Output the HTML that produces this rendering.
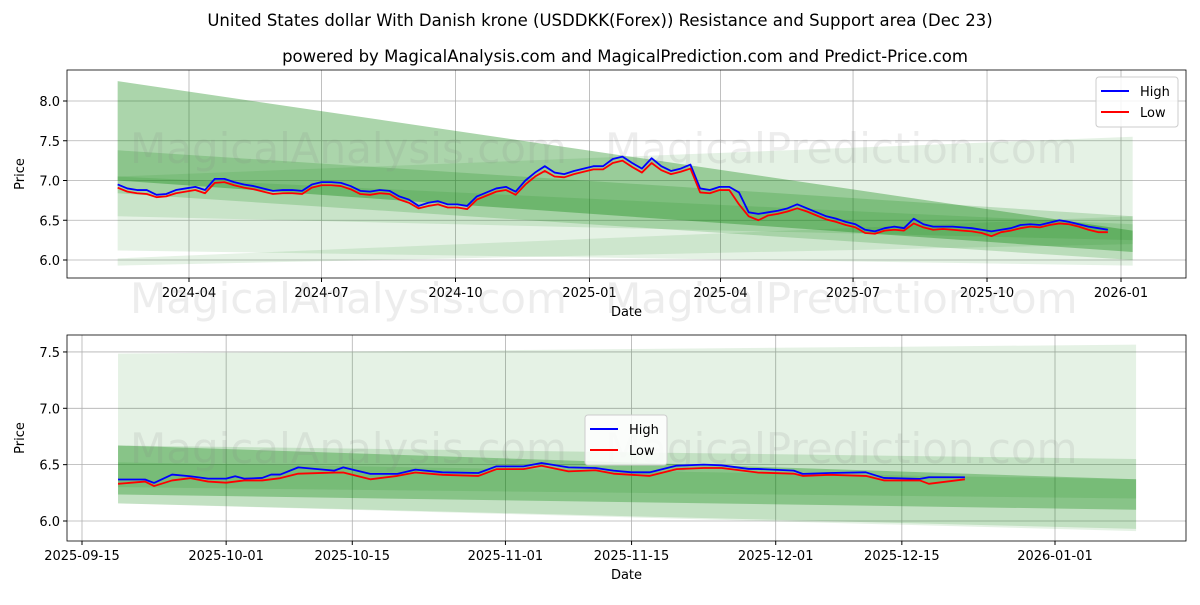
<!DOCTYPE html>
<html><head><meta charset="utf-8"><style>
body{margin:0;background:#fff;}
svg text{font-family:"DejaVu Sans","Liberation Sans",sans-serif;}
</style></head><body>
<svg id="c" width="1200" height="600" xmlns="http://www.w3.org/2000/svg">
<text x="600" y="26" font-size="16.5" text-anchor="middle">United States dollar With Danish krone (USDDKK(Forex)) Resistance and Support area (Dec 23)</text>
<text x="625" y="62" font-size="16.5" text-anchor="middle">powered by MagicalAnalysis.com and MagicalPrediction.com and Predict-Price.com</text>
</svg>
<script>
// ---------- data ----------
const topStart = "2024-02-12", topEnd = "2025-12-23";
const topHigh = [6.95,6.90,6.88,6.88,6.82,6.83,6.88,6.90,6.92,6.88,7.02,7.02,6.98,6.95,6.93,6.90,6.87,6.88,6.88,6.87,6.95,6.98,6.98,6.97,6.93,6.87,6.86,6.88,6.87,6.80,6.76,6.68,6.72,6.74,6.70,6.70,6.68,6.80,6.85,6.90,6.92,6.86,7.00,7.10,7.18,7.10,7.08,7.12,7.15,7.18,7.18,7.27,7.30,7.22,7.15,7.28,7.18,7.12,7.15,7.20,6.90,6.88,6.92,6.92,6.85,6.60,6.58,6.60,6.62,6.65,6.70,6.65,6.60,6.55,6.52,6.48,6.45,6.38,6.36,6.40,6.42,6.40,6.52,6.45,6.42,6.42,6.42,6.41,6.40,6.38,6.36,6.38,6.40,6.44,6.45,6.44,6.47,6.50,6.48,6.45,6.42,6.40,6.38];
const topLow  = [6.91,6.86,6.84,6.83,6.79,6.80,6.84,6.86,6.88,6.84,6.97,6.98,6.94,6.91,6.89,6.86,6.83,6.84,6.84,6.83,6.91,6.94,6.94,6.93,6.89,6.83,6.82,6.84,6.83,6.76,6.72,6.65,6.68,6.70,6.66,6.66,6.64,6.76,6.81,6.86,6.88,6.82,6.95,7.05,7.12,7.05,7.04,7.08,7.11,7.14,7.14,7.22,7.25,7.17,7.10,7.22,7.13,7.08,7.11,7.15,6.85,6.84,6.88,6.88,6.70,6.55,6.50,6.56,6.58,6.61,6.65,6.61,6.56,6.51,6.48,6.44,6.41,6.34,6.33,6.37,6.38,6.37,6.46,6.41,6.38,6.39,6.38,6.37,6.36,6.34,6.30,6.35,6.37,6.40,6.42,6.41,6.44,6.46,6.45,6.42,6.38,6.35,6.35];
const botDays = [4,7,8,10,12,14,16,17,18,20,21,22,24,28,29,32,35,37,40,44,46,49,51,54,57,59,61,63,66,69,71,74,75,79,80,83,87,89,93,94,98];
const botHigh = [6.368,6.368,6.338,6.412,6.397,6.376,6.376,6.397,6.376,6.382,6.412,6.412,6.476,6.447,6.476,6.418,6.418,6.456,6.432,6.426,6.485,6.485,6.515,6.476,6.47,6.447,6.432,6.432,6.491,6.5,6.494,6.462,6.462,6.447,6.418,6.426,6.432,6.382,6.374,6.388,6.388];
const botLow  = [6.33,6.35,6.31,6.36,6.38,6.35,6.34,6.35,6.36,6.36,6.37,6.38,6.42,6.43,6.43,6.37,6.40,6.43,6.41,6.40,6.46,6.46,6.49,6.44,6.45,6.42,6.41,6.40,6.46,6.47,6.47,6.44,6.43,6.42,6.40,6.41,6.40,6.36,6.36,6.33,6.37];
// bands: [lowStart, highStart, lowEnd, highEnd]
const bandStart = "2024-02-12", bandEnd = "2026-01-09";
const topBands = [[6.12,7.05,5.93,7.55],[5.93,6.02,6.20,6.55],[6.84,7.38,6.00,6.55],[7.00,8.25,6.10,6.37],[6.55,7.05,6.25,6.45]];
const topBandAlpha = [0.1,0.1,0.18,0.33,0.12];
const botBandStart = "2025-09-19", botBandEnd = "2026-01-10";
const botBands = [[6.156,7.485,5.91,7.565],[6.156,6.67,5.93,6.55],[6.235,6.67,6.10,6.37],[6.30,6.52,6.20,6.37]];
const botBandAlpha = [0.1,0.15,0.3,0.12];
const topYTicks = [6.0,6.5,7.0,7.5,8.0];
const topXTicks = ["2024-04-01","2024-07-01","2024-10-01","2025-01-01","2025-04-01","2025-07-01","2025-10-01","2026-01-01"];
const botYTicks = [6.0,6.5,7.0,7.5];
const botXTicks = ["2025-09-15","2025-10-01","2025-10-15","2025-11-01","2025-11-15","2025-12-01","2025-12-15","2026-01-01"];

// ---------- drawing ----------
const svg=document.getElementById('c');const NS="http://www.w3.org/2000/svg";
const FS=13;
function mk(t,a,p){const e=document.createElementNS(NS,t);for(const k in a)e.setAttribute(k,a[k]);(p||svg).appendChild(e);return e;}
const D=s=>Date.parse(s)/86400000;
function panel(o){
 const X=d=>o.x0+(d-D(o.xRef))*o.pxDay, Y=v=>o.yRef-(v-o.vRef)*o.pxUnit;
 const g=mk('g',{});
 
 
 o.xt.forEach(t=>{const x=X(D(t));mk('line',{x1:x,x2:x,y1:o.top,y2:o.bot,stroke:'#b0b0b0','stroke-width':0.8},g);
  mk('line',{x1:x,x2:x,y1:o.bot,y2:o.bot+4,stroke:'#000'},g);
  const tx=mk('text',{x:x,y:o.bot+19,'font-size':FS,'text-anchor':'middle'},g);tx.textContent=t.slice(0,o.short?7:10);
  
  });
 o.yt.forEach(v=>{const y=Y(v);mk('line',{x1:o.left,x2:o.right,y1:y,y2:y,stroke:'#b0b0b0','stroke-width':0.8},g);
  mk('line',{x1:o.left-4,x2:o.left,y1:y,y2:y,stroke:'#000'},g);
  const tx=mk('text',{x:o.left-7,y:y+5,'font-size':FS,'text-anchor':'end'},g);tx.textContent=v.toFixed(1);
  
  });
 const bs=X(D(o.bStart)), be=X(D(o.bEnd));
 o.bands.forEach((b,i)=>{const p=mk('polygon',{points:`${bs},${Y(b[1])} ${be},${Y(b[3])} ${be},${Y(b[2])} ${bs},${Y(b[0])}`,fill:'green','fill-opacity':o.alpha[i]},g);
  
  });
 o.wm.forEach(w=>{const t=mk('text',{x:w[0],y:w[1],'font-size':42,fill:'#888','fill-opacity':0.15},g);t.textContent=w[2];
  
  });
 [[o.hi,'#0000ff','high-line'],[o.lo,'#ff0000','low-line']].forEach(([arr,c,n])=>{
  const pts=arr.map((v,i)=>`${X(o.dayOf(i))},${Y(v)}`).join(' ');
  const l=mk('polyline',{points:pts,fill:'none',stroke:c,'stroke-width':1.8,'stroke-linejoin':'round'},g);
  
  });
 mk('rect',{x:o.left,y:o.top,width:o.right-o.left,height:o.bot-o.top,fill:'none',stroke:'#000','stroke-width':0.8},g);
 const xl=mk('text',{x:(o.left+o.right)/2,y:o.bot+38,'font-size':FS,'text-anchor':'middle'},g);xl.textContent='Date';
 
 
 const yl=mk('text',{x:0,y:0,'font-size':FS,'text-anchor':'middle',transform:`translate(${o.left-43},${(o.top+o.bot)/2}) rotate(-90)`},g);yl.textContent='Price';
 
 
 const lg=mk('g',{},g);
 
 
 mk('rect',{x:o.lg[0],y:o.lg[1],width:82,height:50,rx:3,fill:'#fff','fill-opacity':0.85,stroke:'#ccc'},lg);
 [['High','#0000ff'],['Low','#ff0000']].forEach(([n,c],i)=>{const y=o.lg[1]+14+i*21;
  mk('line',{x1:o.lg[0]+5,x2:o.lg[0]+33,y1:y,y2:y,stroke:c,'stroke-width':2},lg);
  const t=mk('text',{x:o.lg[0]+44,y:y+5,'font-size':FS},lg);t.textContent=n;
  
  });
}
const tS=D(topStart),tE=D(topEnd);
panel({name:'top-panel',left:67,right:1186,top:70,bot:278,x0:189,xRef:'2024-04-01',pxDay:932/640,yRef:260,vRef:6,pxUnit:79.5,
 xt:topXTicks,yt:topYTicks,short:true,bStart:bandStart,bEnd:bandEnd,bands:topBands,alpha:topBandAlpha,hi:topHigh,lo:topLow,
 dayOf:i=>tS+i*(tE-tS)/(topHigh.length-1),lg:[1096,77],
 wm:[[130,163,'MagicalAnalysis.com'],[605,163,'MagicalPrediction.com'],[130,313,'MagicalAnalysis.com'],[605,313,'MagicalPrediction.com']]});
panel({name:'bottom-panel',left:67,right:1186,top:335,bot:541,x0:82,xRef:'2025-09-15',pxDay:973/108,yRef:521,vRef:6,pxUnit:112.7,
 xt:botXTicks,yt:botYTicks,short:false,bStart:botBandStart,bEnd:botBandEnd,bands:botBands,alpha:botBandAlpha,hi:botHigh,lo:botLow,
 dayOf:i=>D('2025-09-15')+botDays[i],lg:[585,415],
 wm:[[130,463,'MagicalAnalysis.com'],[605,463,'MagicalPrediction.com']]});
</script>
</body></html>
